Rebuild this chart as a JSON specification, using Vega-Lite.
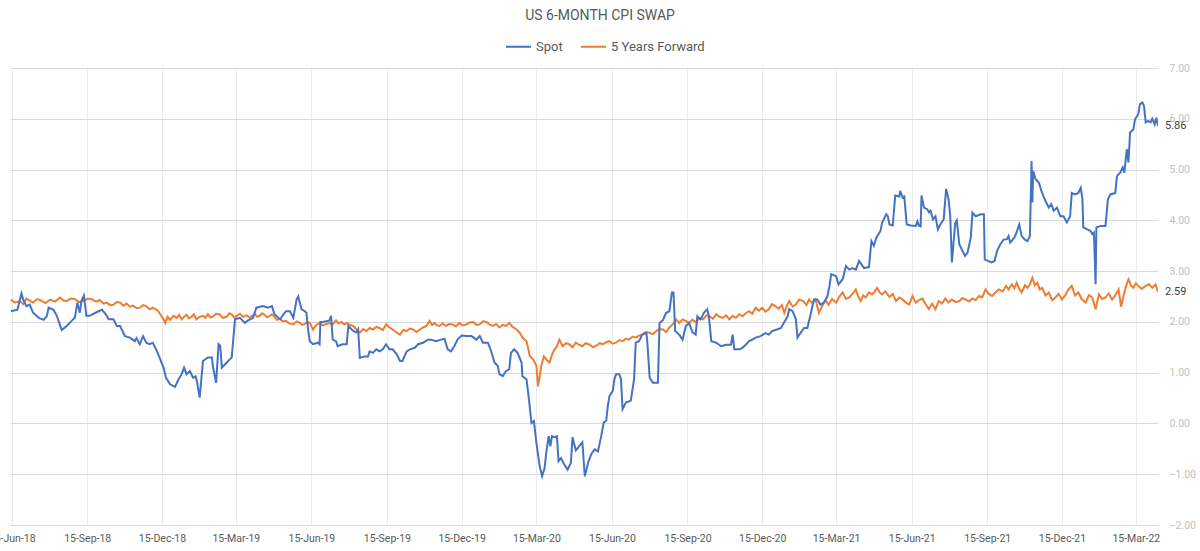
{
  "$schema": "https://vega.github.io/schema/vega-lite/v6.json",
  "width": 1148,
  "height": 457,
  "autosize": {"type": "none"},
  "padding": {"left": 10, "top": 68, "right": 42, "bottom": 26},
  "background": "white",
  "title": {"text": "US 6-MONTH CPI SWAP", "anchor": "middle", "frame": "group", "offset": 10, "dx": 16, "font": "Roboto", "fontSize": 14, "fontWeight": "normal", "color": "#595959"},
  "config": {"view": {"stroke": null}},
  "datasets": {
    "spot": [
      {"d": "2018-06-14", "v": 2.21}, {"d": "2018-06-22", "v": 2.24}, {"d": "2018-06-27", "v": 2.56}, {"d": "2018-06-29", "v": 2.44},
      {"d": "2018-07-03", "v": 2.31}, {"d": "2018-07-07", "v": 2.34}, {"d": "2018-07-11", "v": 2.18}, {"d": "2018-07-18", "v": 2.08},
      {"d": "2018-07-24", "v": 2.04}, {"d": "2018-07-28", "v": 2.12}, {"d": "2018-07-30", "v": 2.28}, {"d": "2018-08-05", "v": 2.24},
      {"d": "2018-08-09", "v": 2.12}, {"d": "2018-08-12", "v": 1.98}, {"d": "2018-08-15", "v": 1.84}, {"d": "2018-08-21", "v": 1.92},
      {"d": "2018-08-27", "v": 2.02}, {"d": "2018-08-31", "v": 2.08}, {"d": "2018-09-03", "v": 2.38}, {"d": "2018-09-06", "v": 2.18},
      {"d": "2018-09-08", "v": 2.41}, {"d": "2018-09-11", "v": 2.52}, {"d": "2018-09-14", "v": 2.12}, {"d": "2018-09-18", "v": 2.12},
      {"d": "2018-09-25", "v": 2.18}, {"d": "2018-09-29", "v": 2.21}, {"d": "2018-10-03", "v": 2.24}, {"d": "2018-10-09", "v": 2.12},
      {"d": "2018-10-11", "v": 2.05}, {"d": "2018-10-17", "v": 2.05}, {"d": "2018-10-21", "v": 1.92}, {"d": "2018-10-25", "v": 1.92},
      {"d": "2018-10-31", "v": 1.72}, {"d": "2018-11-06", "v": 1.69}, {"d": "2018-11-12", "v": 1.62}, {"d": "2018-11-14", "v": 1.68},
      {"d": "2018-11-18", "v": 1.56}, {"d": "2018-11-22", "v": 1.72}, {"d": "2018-11-26", "v": 1.59}, {"d": "2018-11-30", "v": 1.56},
      {"d": "2018-12-04", "v": 1.59}, {"d": "2018-12-09", "v": 1.42}, {"d": "2018-12-13", "v": 1.26}, {"d": "2018-12-17", "v": 1.10},
      {"d": "2018-12-20", "v": 0.90}, {"d": "2018-12-25", "v": 0.77}, {"d": "2018-12-31", "v": 0.72}, {"d": "2019-01-04", "v": 0.86},
      {"d": "2019-01-08", "v": 0.97}, {"d": "2019-01-11", "v": 1.10}, {"d": "2019-01-14", "v": 0.97}, {"d": "2019-01-18", "v": 1.03},
      {"d": "2019-01-22", "v": 0.90}, {"d": "2019-01-25", "v": 0.93}, {"d": "2019-01-27", "v": 0.80}, {"d": "2019-01-30", "v": 0.51},
      {"d": "2019-02-03", "v": 1.23}, {"d": "2019-02-09", "v": 1.30}, {"d": "2019-02-14", "v": 1.30}, {"d": "2019-02-15", "v": 1.13},
      {"d": "2019-02-19", "v": 0.80}, {"d": "2019-02-22", "v": 1.56}, {"d": "2019-02-24", "v": 1.53}, {"d": "2019-02-26", "v": 1.10},
      {"d": "2019-03-04", "v": 1.20}, {"d": "2019-03-10", "v": 1.30}, {"d": "2019-03-14", "v": 2.05}, {"d": "2019-03-20", "v": 2.08},
      {"d": "2019-03-26", "v": 1.98}, {"d": "2019-03-30", "v": 2.03}, {"d": "2019-04-05", "v": 2.08}, {"d": "2019-04-09", "v": 2.28},
      {"d": "2019-04-17", "v": 2.31}, {"d": "2019-04-23", "v": 2.28}, {"d": "2019-04-28", "v": 2.31}, {"d": "2019-05-01", "v": 2.15},
      {"d": "2019-05-08", "v": 2.05}, {"d": "2019-05-12", "v": 2.15}, {"d": "2019-05-15", "v": 2.21}, {"d": "2019-05-20", "v": 2.21},
      {"d": "2019-05-24", "v": 2.08}, {"d": "2019-05-28", "v": 2.44}, {"d": "2019-05-30", "v": 2.50}, {"d": "2019-06-03", "v": 2.25},
      {"d": "2019-06-07", "v": 2.21}, {"d": "2019-06-09", "v": 2.18}, {"d": "2019-06-11", "v": 1.85}, {"d": "2019-06-13", "v": 1.62},
      {"d": "2019-06-17", "v": 1.56}, {"d": "2019-06-23", "v": 1.59}, {"d": "2019-06-25", "v": 1.56}, {"d": "2019-06-26", "v": 2.00},
      {"d": "2019-06-29", "v": 2.00}, {"d": "2019-07-07", "v": 2.03}, {"d": "2019-07-09", "v": 2.12}, {"d": "2019-07-11", "v": 1.65},
      {"d": "2019-07-15", "v": 1.62}, {"d": "2019-07-17", "v": 1.52}, {"d": "2019-07-23", "v": 1.56}, {"d": "2019-07-28", "v": 1.56},
      {"d": "2019-07-30", "v": 1.92}, {"d": "2019-08-05", "v": 1.82}, {"d": "2019-08-09", "v": 1.79}, {"d": "2019-08-11", "v": 1.85},
      {"d": "2019-08-13", "v": 1.29}, {"d": "2019-08-19", "v": 1.32}, {"d": "2019-08-23", "v": 1.32}, {"d": "2019-08-25", "v": 1.42},
      {"d": "2019-08-29", "v": 1.39}, {"d": "2019-09-02", "v": 1.46}, {"d": "2019-09-06", "v": 1.42}, {"d": "2019-09-10", "v": 1.46},
      {"d": "2019-09-14", "v": 1.56}, {"d": "2019-09-18", "v": 1.46}, {"d": "2019-09-22", "v": 1.46}, {"d": "2019-09-27", "v": 1.36},
      {"d": "2019-10-01", "v": 1.23}, {"d": "2019-10-04", "v": 1.23}, {"d": "2019-10-09", "v": 1.42}, {"d": "2019-10-13", "v": 1.46},
      {"d": "2019-10-19", "v": 1.49}, {"d": "2019-10-23", "v": 1.56}, {"d": "2019-10-29", "v": 1.59}, {"d": "2019-11-04", "v": 1.65},
      {"d": "2019-11-08", "v": 1.65}, {"d": "2019-11-14", "v": 1.62}, {"d": "2019-11-20", "v": 1.65}, {"d": "2019-11-24", "v": 1.67},
      {"d": "2019-11-28", "v": 1.46}, {"d": "2019-12-02", "v": 1.42}, {"d": "2019-12-06", "v": 1.52}, {"d": "2019-12-10", "v": 1.65},
      {"d": "2019-12-15", "v": 1.73}, {"d": "2019-12-21", "v": 1.72}, {"d": "2019-12-27", "v": 1.72}, {"d": "2020-01-02", "v": 1.65},
      {"d": "2020-01-06", "v": 1.72}, {"d": "2020-01-10", "v": 1.59}, {"d": "2020-01-16", "v": 1.59}, {"d": "2020-01-20", "v": 1.42},
      {"d": "2020-01-24", "v": 1.20}, {"d": "2020-01-28", "v": 1.13}, {"d": "2020-01-30", "v": 0.97}, {"d": "2020-02-03", "v": 0.93},
      {"d": "2020-02-07", "v": 1.03}, {"d": "2020-02-11", "v": 1.07}, {"d": "2020-02-13", "v": 1.39}, {"d": "2020-02-17", "v": 1.46},
      {"d": "2020-02-21", "v": 1.39}, {"d": "2020-02-26", "v": 1.20}, {"d": "2020-02-27", "v": 0.93}, {"d": "2020-03-03", "v": 0.87},
      {"d": "2020-03-06", "v": 0.47}, {"d": "2020-03-09", "v": 0.01}, {"d": "2020-03-12", "v": 0.05}, {"d": "2020-03-15", "v": -0.38},
      {"d": "2020-03-19", "v": -0.84}, {"d": "2020-03-22", "v": -1.04}, {"d": "2020-03-25", "v": -0.88}, {"d": "2020-03-27", "v": -0.58},
      {"d": "2020-03-30", "v": -0.25}, {"d": "2020-04-01", "v": -0.45}, {"d": "2020-04-03", "v": -0.25}, {"d": "2020-04-06", "v": -0.27},
      {"d": "2020-04-09", "v": -0.25}, {"d": "2020-04-11", "v": -0.74}, {"d": "2020-04-14", "v": -0.68}, {"d": "2020-04-18", "v": -0.81},
      {"d": "2020-04-22", "v": -0.91}, {"d": "2020-04-26", "v": -0.78}, {"d": "2020-04-28", "v": -0.27}, {"d": "2020-05-02", "v": -0.53},
      {"d": "2020-05-06", "v": -0.45}, {"d": "2020-05-10", "v": -0.37}, {"d": "2020-05-13", "v": -1.04}, {"d": "2020-05-17", "v": -0.77},
      {"d": "2020-05-21", "v": -0.60}, {"d": "2020-05-25", "v": -0.51}, {"d": "2020-05-29", "v": -0.55}, {"d": "2020-06-02", "v": -0.25},
      {"d": "2020-06-05", "v": 0.02}, {"d": "2020-06-08", "v": 0.05}, {"d": "2020-06-10", "v": 0.34}, {"d": "2020-06-12", "v": 0.54},
      {"d": "2020-06-16", "v": 0.64}, {"d": "2020-06-18", "v": 0.87}, {"d": "2020-06-20", "v": 0.97}, {"d": "2020-06-24", "v": 0.97},
      {"d": "2020-06-26", "v": 0.87}, {"d": "2020-06-28", "v": 0.28}, {"d": "2020-07-02", "v": 0.41}, {"d": "2020-07-08", "v": 0.45},
      {"d": "2020-07-12", "v": 0.87}, {"d": "2020-07-14", "v": 1.59}, {"d": "2020-07-18", "v": 1.62}, {"d": "2020-07-22", "v": 1.75},
      {"d": "2020-07-27", "v": 1.78}, {"d": "2020-07-28", "v": 1.62}, {"d": "2020-07-31", "v": 0.90}, {"d": "2020-08-04", "v": 0.80},
      {"d": "2020-08-10", "v": 0.80}, {"d": "2020-08-12", "v": 1.98}, {"d": "2020-08-16", "v": 2.03}, {"d": "2020-08-20", "v": 2.18},
      {"d": "2020-08-24", "v": 2.21}, {"d": "2020-08-27", "v": 2.58}, {"d": "2020-08-29", "v": 2.58}, {"d": "2020-08-31", "v": 1.82},
      {"d": "2020-09-05", "v": 1.75}, {"d": "2020-09-09", "v": 1.65}, {"d": "2020-09-13", "v": 1.92}, {"d": "2020-09-17", "v": 1.98},
      {"d": "2020-09-21", "v": 1.80}, {"d": "2020-09-25", "v": 1.75}, {"d": "2020-09-27", "v": 2.11}, {"d": "2020-10-01", "v": 2.05},
      {"d": "2020-10-05", "v": 2.18}, {"d": "2020-10-09", "v": 2.25}, {"d": "2020-10-11", "v": 2.12}, {"d": "2020-10-14", "v": 1.62},
      {"d": "2020-10-20", "v": 1.59}, {"d": "2020-10-26", "v": 1.52}, {"d": "2020-11-01", "v": 1.55}, {"d": "2020-11-07", "v": 1.55},
      {"d": "2020-11-09", "v": 1.75}, {"d": "2020-11-11", "v": 1.46}, {"d": "2020-11-17", "v": 1.46}, {"d": "2020-11-21", "v": 1.49},
      {"d": "2020-11-25", "v": 1.55}, {"d": "2020-11-29", "v": 1.62}, {"d": "2020-12-03", "v": 1.65}, {"d": "2020-12-07", "v": 1.69},
      {"d": "2020-12-13", "v": 1.72}, {"d": "2020-12-19", "v": 1.78}, {"d": "2020-12-23", "v": 1.75}, {"d": "2020-12-27", "v": 1.82},
      {"d": "2021-01-02", "v": 1.85}, {"d": "2021-01-07", "v": 1.88}, {"d": "2021-01-11", "v": 2.00}, {"d": "2021-01-15", "v": 2.11},
      {"d": "2021-01-17", "v": 2.25}, {"d": "2021-01-21", "v": 2.21}, {"d": "2021-01-25", "v": 2.05}, {"d": "2021-01-27", "v": 1.69},
      {"d": "2021-01-31", "v": 1.79}, {"d": "2021-02-04", "v": 1.88}, {"d": "2021-02-08", "v": 1.88}, {"d": "2021-02-12", "v": 2.15},
      {"d": "2021-02-16", "v": 2.44}, {"d": "2021-02-20", "v": 2.44}, {"d": "2021-02-24", "v": 2.34}, {"d": "2021-02-28", "v": 2.38},
      {"d": "2021-03-04", "v": 2.48}, {"d": "2021-03-07", "v": 2.71}, {"d": "2021-03-09", "v": 2.94}, {"d": "2021-03-15", "v": 2.90},
      {"d": "2021-03-18", "v": 2.74}, {"d": "2021-03-23", "v": 2.84}, {"d": "2021-03-27", "v": 3.10}, {"d": "2021-03-31", "v": 3.03},
      {"d": "2021-04-04", "v": 3.06}, {"d": "2021-04-08", "v": 3.03}, {"d": "2021-04-12", "v": 3.20}, {"d": "2021-04-18", "v": 3.06},
      {"d": "2021-04-24", "v": 3.08}, {"d": "2021-04-27", "v": 3.59}, {"d": "2021-04-30", "v": 3.50}, {"d": "2021-05-03", "v": 3.66},
      {"d": "2021-05-08", "v": 3.79}, {"d": "2021-05-10", "v": 3.95}, {"d": "2021-05-15", "v": 4.12}, {"d": "2021-05-17", "v": 4.08},
      {"d": "2021-05-19", "v": 3.92}, {"d": "2021-05-23", "v": 3.90}, {"d": "2021-05-26", "v": 4.49}, {"d": "2021-05-31", "v": 4.47},
      {"d": "2021-06-01", "v": 4.58}, {"d": "2021-06-04", "v": 4.45}, {"d": "2021-06-06", "v": 4.47}, {"d": "2021-06-09", "v": 3.92},
      {"d": "2021-06-14", "v": 3.90}, {"d": "2021-06-20", "v": 3.89}, {"d": "2021-06-22", "v": 3.98}, {"d": "2021-06-24", "v": 3.89},
      {"d": "2021-06-26", "v": 3.88}, {"d": "2021-06-27", "v": 4.49}, {"d": "2021-06-30", "v": 4.25}, {"d": "2021-07-04", "v": 4.22},
      {"d": "2021-07-06", "v": 4.16}, {"d": "2021-07-08", "v": 4.19}, {"d": "2021-07-11", "v": 4.02}, {"d": "2021-07-14", "v": 4.08},
      {"d": "2021-07-17", "v": 3.82}, {"d": "2021-07-20", "v": 3.92}, {"d": "2021-07-24", "v": 4.02}, {"d": "2021-07-27", "v": 4.62},
      {"d": "2021-07-30", "v": 4.41}, {"d": "2021-08-01", "v": 4.08}, {"d": "2021-08-03", "v": 3.17}, {"d": "2021-08-07", "v": 3.94},
      {"d": "2021-08-09", "v": 4.00}, {"d": "2021-08-12", "v": 3.53}, {"d": "2021-08-15", "v": 3.43}, {"d": "2021-08-19", "v": 3.30},
      {"d": "2021-08-22", "v": 3.36}, {"d": "2021-08-26", "v": 3.66}, {"d": "2021-08-28", "v": 4.15}, {"d": "2021-09-01", "v": 4.08},
      {"d": "2021-09-07", "v": 4.12}, {"d": "2021-09-11", "v": 4.12}, {"d": "2021-09-12", "v": 3.23}, {"d": "2021-09-16", "v": 3.20},
      {"d": "2021-09-20", "v": 3.17}, {"d": "2021-09-24", "v": 3.20}, {"d": "2021-09-27", "v": 3.40}, {"d": "2021-10-01", "v": 3.53},
      {"d": "2021-10-05", "v": 3.62}, {"d": "2021-10-09", "v": 3.63}, {"d": "2021-10-11", "v": 3.69}, {"d": "2021-10-13", "v": 3.56},
      {"d": "2021-10-18", "v": 3.66}, {"d": "2021-10-20", "v": 3.73}, {"d": "2021-10-24", "v": 3.92}, {"d": "2021-10-27", "v": 3.69},
      {"d": "2021-10-31", "v": 3.62}, {"d": "2021-11-03", "v": 3.59}, {"d": "2021-11-06", "v": 3.69}, {"d": "2021-11-08", "v": 5.17},
      {"d": "2021-11-09", "v": 4.35}, {"d": "2021-11-10", "v": 4.97}, {"d": "2021-11-13", "v": 4.81}, {"d": "2021-11-17", "v": 4.74},
      {"d": "2021-11-20", "v": 4.58}, {"d": "2021-11-23", "v": 4.45}, {"d": "2021-11-25", "v": 4.38}, {"d": "2021-11-29", "v": 4.25},
      {"d": "2021-12-02", "v": 4.32}, {"d": "2021-12-05", "v": 4.19}, {"d": "2021-12-09", "v": 4.25}, {"d": "2021-12-13", "v": 4.08},
      {"d": "2021-12-17", "v": 4.08}, {"d": "2021-12-21", "v": 3.96}, {"d": "2021-12-25", "v": 4.08}, {"d": "2021-12-27", "v": 4.54},
      {"d": "2021-12-31", "v": 4.51}, {"d": "2022-01-04", "v": 4.54}, {"d": "2022-01-07", "v": 4.64}, {"d": "2022-01-09", "v": 4.41},
      {"d": "2022-01-10", "v": 3.86}, {"d": "2022-01-15", "v": 3.82}, {"d": "2022-01-19", "v": 3.79}, {"d": "2022-01-21", "v": 3.73},
      {"d": "2022-01-23", "v": 3.76}, {"d": "2022-01-25", "v": 2.74}, {"d": "2022-01-26", "v": 3.86}, {"d": "2022-01-31", "v": 3.89},
      {"d": "2022-02-06", "v": 3.89}, {"d": "2022-02-09", "v": 4.41}, {"d": "2022-02-12", "v": 4.51}, {"d": "2022-02-18", "v": 4.54},
      {"d": "2022-02-20", "v": 4.87}, {"d": "2022-02-24", "v": 4.94}, {"d": "2022-02-27", "v": 5.04}, {"d": "2022-03-01", "v": 4.94},
      {"d": "2022-03-04", "v": 5.40}, {"d": "2022-03-06", "v": 5.14}, {"d": "2022-03-08", "v": 5.73}, {"d": "2022-03-12", "v": 5.79},
      {"d": "2022-03-14", "v": 5.99}, {"d": "2022-03-18", "v": 6.09}, {"d": "2022-03-20", "v": 6.29}, {"d": "2022-03-23", "v": 6.32},
      {"d": "2022-03-25", "v": 6.25}, {"d": "2022-03-27", "v": 5.93}, {"d": "2022-03-30", "v": 5.96}, {"d": "2022-04-02", "v": 5.93},
      {"d": "2022-04-04", "v": 6.00}, {"d": "2022-04-07", "v": 5.89}, {"d": "2022-04-09", "v": 6.02}, {"d": "2022-04-11", "v": 5.86}
    ],
    "fwd": [
      {"d": "2018-06-14", "v": 2.44}, {"d": "2018-06-19", "v": 2.38}, {"d": "2018-06-25", "v": 2.41}, {"d": "2018-06-29", "v": 2.35}, {"d": "2018-07-03", "v": 2.46}, {"d": "2018-07-11", "v": 2.38},
      {"d": "2018-07-16", "v": 2.45}, {"d": "2018-07-20", "v": 2.43}, {"d": "2018-07-26", "v": 2.37}, {"d": "2018-08-01", "v": 2.44}, {"d": "2018-08-07", "v": 2.40}, {"d": "2018-08-13", "v": 2.48},
      {"d": "2018-08-17", "v": 2.42}, {"d": "2018-08-21", "v": 2.41}, {"d": "2018-08-26", "v": 2.46}, {"d": "2018-08-31", "v": 2.45}, {"d": "2018-09-05", "v": 2.39}, {"d": "2018-09-10", "v": 2.41}, {"d": "2018-09-16", "v": 2.46}, {"d": "2018-09-21", "v": 2.44},
      {"d": "2018-09-26", "v": 2.40}, {"d": "2018-09-30", "v": 2.43}, {"d": "2018-10-05", "v": 2.36}, {"d": "2018-10-09", "v": 2.38}, {"d": "2018-10-13", "v": 2.33}, {"d": "2018-10-17", "v": 2.34}, {"d": "2018-10-21", "v": 2.39}, {"d": "2018-10-25", "v": 2.38},
      {"d": "2018-10-29", "v": 2.32}, {"d": "2018-11-02", "v": 2.36}, {"d": "2018-11-06", "v": 2.30}, {"d": "2018-11-10", "v": 2.32}, {"d": "2018-11-14", "v": 2.27}, {"d": "2018-11-18", "v": 2.28}, {"d": "2018-11-22", "v": 2.33}, {"d": "2018-11-26", "v": 2.31},
      {"d": "2018-11-30", "v": 2.25}, {"d": "2018-12-04", "v": 2.28}, {"d": "2018-12-10", "v": 2.22}, {"d": "2018-12-13", "v": 2.15}, {"d": "2018-12-17", "v": 2.05},
      {"d": "2018-12-19", "v": 1.98}, {"d": "2018-12-22", "v": 2.10}, {"d": "2018-12-25", "v": 2.04}, {"d": "2018-12-29", "v": 2.12}, {"d": "2019-01-02", "v": 2.08}, {"d": "2019-01-05", "v": 2.14}, {"d": "2019-01-08", "v": 2.05},
      {"d": "2019-01-11", "v": 2.10}, {"d": "2019-01-14", "v": 2.14}, {"d": "2019-01-17", "v": 2.07}, {"d": "2019-01-20", "v": 2.10}, {"d": "2019-01-23", "v": 2.15}, {"d": "2019-01-26", "v": 2.05}, {"d": "2019-01-30", "v": 2.10}, {"d": "2019-02-03", "v": 2.12},
      {"d": "2019-02-06", "v": 2.08}, {"d": "2019-02-09", "v": 2.15}, {"d": "2019-02-12", "v": 2.09}, {"d": "2019-02-15", "v": 2.10}, {"d": "2019-02-19", "v": 2.16}, {"d": "2019-02-23", "v": 2.15}, {"d": "2019-02-27", "v": 2.08}, {"d": "2019-03-04", "v": 2.10},
      {"d": "2019-03-07", "v": 2.17}, {"d": "2019-03-10", "v": 2.15}, {"d": "2019-03-13", "v": 2.09}, {"d": "2019-03-16", "v": 2.12}, {"d": "2019-03-20", "v": 2.16}, {"d": "2019-03-24", "v": 2.10}, {"d": "2019-03-28", "v": 2.13}, {"d": "2019-04-01", "v": 2.08},
      {"d": "2019-04-04", "v": 2.12}, {"d": "2019-04-07", "v": 2.16}, {"d": "2019-04-10", "v": 2.10}, {"d": "2019-04-13", "v": 2.12}, {"d": "2019-04-16", "v": 2.17}, {"d": "2019-04-19", "v": 2.14}, {"d": "2019-04-22", "v": 2.09}, {"d": "2019-04-25", "v": 2.12},
      {"d": "2019-04-28", "v": 2.15}, {"d": "2019-05-01", "v": 2.10}, {"d": "2019-05-04", "v": 2.04}, {"d": "2019-05-08", "v": 2.06}, {"d": "2019-05-11", "v": 2.01}, {"d": "2019-05-15", "v": 2.02}, {"d": "2019-05-19", "v": 1.97}, {"d": "2019-05-24", "v": 1.95},
      {"d": "2019-05-28", "v": 2.01}, {"d": "2019-06-01", "v": 1.98}, {"d": "2019-06-04", "v": 1.94}, {"d": "2019-06-07", "v": 1.96}, {"d": "2019-06-10", "v": 2.00}, {"d": "2019-06-13", "v": 1.98}, {"d": "2019-06-17", "v": 1.85},
      {"d": "2019-06-21", "v": 1.94}, {"d": "2019-06-25", "v": 1.98}, {"d": "2019-06-29", "v": 1.93}, {"d": "2019-07-03", "v": 1.96}, {"d": "2019-07-07", "v": 1.98}, {"d": "2019-07-11", "v": 1.95}, {"d": "2019-07-15", "v": 2.03},
      {"d": "2019-07-18", "v": 1.97}, {"d": "2019-07-22", "v": 2.00}, {"d": "2019-07-25", "v": 1.95}, {"d": "2019-07-28", "v": 1.98}, {"d": "2019-08-01", "v": 1.94}, {"d": "2019-08-05", "v": 1.92}, {"d": "2019-08-09", "v": 1.85}, {"d": "2019-08-13", "v": 1.79},
      {"d": "2019-08-17", "v": 1.86}, {"d": "2019-08-21", "v": 1.82}, {"d": "2019-08-25", "v": 1.88}, {"d": "2019-08-29", "v": 1.85}, {"d": "2019-09-02", "v": 1.90}, {"d": "2019-09-06", "v": 1.88}, {"d": "2019-09-10", "v": 1.84}, {"d": "2019-09-14", "v": 1.95},
      {"d": "2019-09-18", "v": 1.89}, {"d": "2019-09-22", "v": 1.85}, {"d": "2019-09-26", "v": 1.80}, {"d": "2019-10-01", "v": 1.75}, {"d": "2019-10-05", "v": 1.84}, {"d": "2019-10-09", "v": 1.82}, {"d": "2019-10-13", "v": 1.87}, {"d": "2019-10-17", "v": 1.85},
      {"d": "2019-10-21", "v": 1.80}, {"d": "2019-10-25", "v": 1.85}, {"d": "2019-10-29", "v": 1.89}, {"d": "2019-11-02", "v": 1.92}, {"d": "2019-11-06", "v": 2.02}, {"d": "2019-11-09", "v": 1.94}, {"d": "2019-11-12", "v": 1.98},
      {"d": "2019-11-15", "v": 1.93}, {"d": "2019-11-18", "v": 1.92}, {"d": "2019-11-22", "v": 1.97}, {"d": "2019-11-26", "v": 1.92}, {"d": "2019-11-30", "v": 1.96}, {"d": "2019-12-04", "v": 1.95}, {"d": "2019-12-08", "v": 1.91}, {"d": "2019-12-12", "v": 1.98},
      {"d": "2019-12-16", "v": 1.93}, {"d": "2019-12-21", "v": 1.95}, {"d": "2019-12-25", "v": 1.99}, {"d": "2019-12-29", "v": 2.00}, {"d": "2020-01-02", "v": 1.94}, {"d": "2020-01-06", "v": 1.95}, {"d": "2020-01-10", "v": 2.01}, {"d": "2020-01-14", "v": 2.00},
      {"d": "2020-01-18", "v": 1.95}, {"d": "2020-01-22", "v": 1.92}, {"d": "2020-01-26", "v": 1.96}, {"d": "2020-01-30", "v": 1.89}, {"d": "2020-02-03", "v": 1.94}, {"d": "2020-02-07", "v": 1.92}, {"d": "2020-02-11", "v": 1.98},
      {"d": "2020-02-15", "v": 1.90}, {"d": "2020-02-20", "v": 1.85}, {"d": "2020-02-24", "v": 1.78}, {"d": "2020-02-27", "v": 1.69}, {"d": "2020-03-03", "v": 1.62}, {"d": "2020-03-05", "v": 1.48}, {"d": "2020-03-07", "v": 1.33},
      {"d": "2020-03-11", "v": 1.26}, {"d": "2020-03-15", "v": 1.14}, {"d": "2020-03-17", "v": 0.73}, {"d": "2020-03-21", "v": 1.13},
      {"d": "2020-03-24", "v": 1.32}, {"d": "2020-03-27", "v": 1.26}, {"d": "2020-03-31", "v": 1.20}, {"d": "2020-04-03", "v": 1.35}, {"d": "2020-04-06", "v": 1.46}, {"d": "2020-04-09", "v": 1.52}, {"d": "2020-04-12", "v": 1.65},
      {"d": "2020-04-16", "v": 1.52}, {"d": "2020-04-20", "v": 1.58}, {"d": "2020-04-24", "v": 1.56}, {"d": "2020-04-28", "v": 1.50}, {"d": "2020-05-02", "v": 1.59}, {"d": "2020-05-06", "v": 1.55}, {"d": "2020-05-10", "v": 1.52}, {"d": "2020-05-14", "v": 1.58},
      {"d": "2020-05-19", "v": 1.55}, {"d": "2020-05-23", "v": 1.50}, {"d": "2020-05-27", "v": 1.53}, {"d": "2020-05-31", "v": 1.58}, {"d": "2020-06-04", "v": 1.56}, {"d": "2020-06-08", "v": 1.60}, {"d": "2020-06-12", "v": 1.62},
      {"d": "2020-06-16", "v": 1.57}, {"d": "2020-06-20", "v": 1.59}, {"d": "2020-06-24", "v": 1.64}, {"d": "2020-06-28", "v": 1.62}, {"d": "2020-07-02", "v": 1.67}, {"d": "2020-07-06", "v": 1.65}, {"d": "2020-07-10", "v": 1.71}, {"d": "2020-07-14", "v": 1.69},
      {"d": "2020-07-18", "v": 1.73}, {"d": "2020-07-22", "v": 1.75}, {"d": "2020-07-26", "v": 1.80}, {"d": "2020-07-30", "v": 1.79}, {"d": "2020-08-04", "v": 1.76}, {"d": "2020-08-08", "v": 1.82}, {"d": "2020-08-12", "v": 1.86}, {"d": "2020-08-16", "v": 1.85},
      {"d": "2020-08-20", "v": 1.80}, {"d": "2020-08-24", "v": 1.89}, {"d": "2020-08-28", "v": 1.95}, {"d": "2020-09-01", "v": 2.05}, {"d": "2020-09-05", "v": 1.98}, {"d": "2020-09-09", "v": 2.05}, {"d": "2020-09-13", "v": 2.02}, {"d": "2020-09-17", "v": 1.98},
      {"d": "2020-09-21", "v": 2.04}, {"d": "2020-09-25", "v": 2.00}, {"d": "2020-09-30", "v": 2.07}, {"d": "2020-10-04", "v": 2.05}, {"d": "2020-10-08", "v": 2.13}, {"d": "2020-10-12", "v": 2.11}, {"d": "2020-10-16", "v": 2.06}, {"d": "2020-10-20", "v": 2.15},
      {"d": "2020-10-24", "v": 2.10}, {"d": "2020-10-28", "v": 2.08}, {"d": "2020-11-01", "v": 2.13}, {"d": "2020-11-05", "v": 2.05}, {"d": "2020-11-09", "v": 2.12}, {"d": "2020-11-13", "v": 2.08}, {"d": "2020-11-17", "v": 2.15}, {"d": "2020-11-21", "v": 2.11},
      {"d": "2020-11-25", "v": 2.17}, {"d": "2020-11-29", "v": 2.21}, {"d": "2020-12-03", "v": 2.16}, {"d": "2020-12-07", "v": 2.28}, {"d": "2020-12-11", "v": 2.22}, {"d": "2020-12-15", "v": 2.28}, {"d": "2020-12-19", "v": 2.20}, {"d": "2020-12-23", "v": 2.25},
      {"d": "2020-12-27", "v": 2.35}, {"d": "2020-12-31", "v": 2.31}, {"d": "2021-01-04", "v": 2.26}, {"d": "2021-01-08", "v": 2.33}, {"d": "2021-01-11", "v": 2.18}, {"d": "2021-01-14", "v": 2.32}, {"d": "2021-01-17", "v": 2.41},
      {"d": "2021-01-21", "v": 2.30}, {"d": "2021-01-25", "v": 2.34}, {"d": "2021-01-29", "v": 2.44}, {"d": "2021-02-03", "v": 2.41}, {"d": "2021-02-07", "v": 2.33}, {"d": "2021-02-10", "v": 2.44}, {"d": "2021-02-14", "v": 2.37}, {"d": "2021-02-18", "v": 2.44},
      {"d": "2021-02-22", "v": 2.18}, {"d": "2021-02-26", "v": 2.31}, {"d": "2021-03-02", "v": 2.42}, {"d": "2021-03-06", "v": 2.34}, {"d": "2021-03-10", "v": 2.45}, {"d": "2021-03-15", "v": 2.38},
      {"d": "2021-03-19", "v": 2.50}, {"d": "2021-03-23", "v": 2.58}, {"d": "2021-03-27", "v": 2.45}, {"d": "2021-03-31", "v": 2.48}, {"d": "2021-04-04", "v": 2.55}, {"d": "2021-04-08", "v": 2.64}, {"d": "2021-04-11", "v": 2.50}, {"d": "2021-04-14", "v": 2.41},
      {"d": "2021-04-17", "v": 2.52}, {"d": "2021-04-20", "v": 2.48}, {"d": "2021-04-24", "v": 2.58}, {"d": "2021-04-28", "v": 2.54}, {"d": "2021-05-01", "v": 2.60}, {"d": "2021-05-04", "v": 2.67}, {"d": "2021-05-07", "v": 2.58}, {"d": "2021-05-10", "v": 2.54},
      {"d": "2021-05-14", "v": 2.60}, {"d": "2021-05-19", "v": 2.49}, {"d": "2021-05-23", "v": 2.55}, {"d": "2021-05-27", "v": 2.41}, {"d": "2021-05-31", "v": 2.48}, {"d": "2021-06-04", "v": 2.44}, {"d": "2021-06-08", "v": 2.38}, {"d": "2021-06-12", "v": 2.34},
      {"d": "2021-06-16", "v": 2.51}, {"d": "2021-06-20", "v": 2.38}, {"d": "2021-06-24", "v": 2.43}, {"d": "2021-06-28", "v": 2.46}, {"d": "2021-07-02", "v": 2.35}, {"d": "2021-07-06", "v": 2.25}, {"d": "2021-07-10", "v": 2.36},
      {"d": "2021-07-14", "v": 2.25}, {"d": "2021-07-18", "v": 2.41}, {"d": "2021-07-22", "v": 2.36}, {"d": "2021-07-26", "v": 2.46}, {"d": "2021-07-30", "v": 2.38}, {"d": "2021-08-03", "v": 2.44}, {"d": "2021-08-08", "v": 2.39}, {"d": "2021-08-12", "v": 2.41},
      {"d": "2021-08-16", "v": 2.47}, {"d": "2021-08-20", "v": 2.44}, {"d": "2021-08-24", "v": 2.40}, {"d": "2021-08-28", "v": 2.46}, {"d": "2021-09-01", "v": 2.43}, {"d": "2021-09-05", "v": 2.51}, {"d": "2021-09-09", "v": 2.48},
      {"d": "2021-09-13", "v": 2.64}, {"d": "2021-09-17", "v": 2.55}, {"d": "2021-09-21", "v": 2.51}, {"d": "2021-09-25", "v": 2.58}, {"d": "2021-09-29", "v": 2.64}, {"d": "2021-10-04", "v": 2.60}, {"d": "2021-10-08", "v": 2.71}, {"d": "2021-10-11", "v": 2.64},
      {"d": "2021-10-15", "v": 2.74}, {"d": "2021-10-18", "v": 2.66}, {"d": "2021-10-21", "v": 2.77}, {"d": "2021-10-24", "v": 2.65}, {"d": "2021-10-27", "v": 2.58}, {"d": "2021-10-31", "v": 2.72}, {"d": "2021-11-03", "v": 2.67},
      {"d": "2021-11-06", "v": 2.74}, {"d": "2021-11-09", "v": 2.87}, {"d": "2021-11-12", "v": 2.72}, {"d": "2021-11-15", "v": 2.77}, {"d": "2021-11-18", "v": 2.64}, {"d": "2021-11-21", "v": 2.67}, {"d": "2021-11-25", "v": 2.52}, {"d": "2021-11-29", "v": 2.58},
      {"d": "2021-12-03", "v": 2.43}, {"d": "2021-12-07", "v": 2.48}, {"d": "2021-12-11", "v": 2.55}, {"d": "2021-12-15", "v": 2.44}, {"d": "2021-12-19", "v": 2.52}, {"d": "2021-12-23", "v": 2.64}, {"d": "2021-12-27", "v": 2.71},
      {"d": "2021-12-31", "v": 2.52}, {"d": "2022-01-04", "v": 2.58}, {"d": "2022-01-08", "v": 2.45}, {"d": "2022-01-13", "v": 2.38}, {"d": "2022-01-17", "v": 2.53}, {"d": "2022-01-21", "v": 2.48}, {"d": "2022-01-25", "v": 2.25},
      {"d": "2022-01-29", "v": 2.54}, {"d": "2022-02-02", "v": 2.45}, {"d": "2022-02-06", "v": 2.48}, {"d": "2022-02-10", "v": 2.56}, {"d": "2022-02-14", "v": 2.44}, {"d": "2022-02-18", "v": 2.52}, {"d": "2022-02-22", "v": 2.64},
      {"d": "2022-02-25", "v": 2.30}, {"d": "2022-02-28", "v": 2.51}, {"d": "2022-03-03", "v": 2.70}, {"d": "2022-03-06", "v": 2.84}, {"d": "2022-03-09", "v": 2.72}, {"d": "2022-03-12", "v": 2.67}, {"d": "2022-03-15", "v": 2.76},
      {"d": "2022-03-18", "v": 2.71}, {"d": "2022-03-22", "v": 2.65}, {"d": "2022-03-27", "v": 2.71}, {"d": "2022-03-31", "v": 2.74}, {"d": "2022-04-04", "v": 2.67}, {"d": "2022-04-08", "v": 2.74},
      {"d": "2022-04-11", "v": 2.59}
    ]
  },
  "encoding": {
    "x": {
      "field": "d", "type": "temporal",
      "scale": {"type": "utc", "domain": [{"year": 2018, "month": 6, "date": 13, "utc": true}, {"year": 2022, "month": 4, "date": 11, "utc": true}]},
      "axis": {
        "title": null, "labelExpr": "utcFormat(datum.value, '%d-%b-%y')", "domain": false, "ticks": false,
        "grid": true, "gridColor": "#ebebeb", "gridWidth": 1,
        "labelColor": "#595959", "labelFont": "Roboto", "labelFontSize": 10.5, "labelPadding": 8,
        "labelOverlap": false, "labelBound": false, "labelFlush": false,
        "values": [
          {"year": 2018, "month": 6, "date": 15, "utc": true}, {"year": 2018, "month": 9, "date": 15, "utc": true},
          {"year": 2018, "month": 12, "date": 15, "utc": true}, {"year": 2019, "month": 3, "date": 15, "utc": true},
          {"year": 2019, "month": 6, "date": 15, "utc": true}, {"year": 2019, "month": 9, "date": 15, "utc": true},
          {"year": 2019, "month": 12, "date": 15, "utc": true}, {"year": 2020, "month": 3, "date": 15, "utc": true},
          {"year": 2020, "month": 6, "date": 15, "utc": true}, {"year": 2020, "month": 9, "date": 15, "utc": true},
          {"year": 2020, "month": 12, "date": 15, "utc": true}, {"year": 2021, "month": 3, "date": 15, "utc": true},
          {"year": 2021, "month": 6, "date": 15, "utc": true}, {"year": 2021, "month": 9, "date": 15, "utc": true},
          {"year": 2021, "month": 12, "date": 15, "utc": true}, {"year": 2022, "month": 3, "date": 15, "utc": true}
        ]
      }
    },
    "y": {
      "field": "v", "type": "quantitative",
      "scale": {"domain": [-2, 7], "nice": false, "zero": false},
      "axis": {
        "title": null, "orient": "right", "values": [-2, -1, 0, 1, 2, 3, 4, 5, 6, 7], "format": ".2f",
        "domain": false, "ticks": false, "grid": true, "gridColor": "#d9d9d9", "gridWidth": 1,
        "labelColor": "#bfbfbf", "labelFont": "Roboto", "labelFontSize": 10.5, "labelPadding": 11
      }
    }
  },
  "layer": [
    {
      "data": {"name": "fwd"},
      "mark": {"type": "line", "strokeWidth": 2, "clip": true},
      "encoding": {
        "color": {
          "datum": "5 Years Forward", "type": "nominal",
          "scale": {"domain": ["Spot", "5 Years Forward"], "range": ["#4472C4", "#ED7D31"]},
          "legend": {
            "title": null, "orient": "none", "legendX": 495, "legendY": -35, "direction": "horizontal",
            "symbolType": "stroke", "symbolStrokeWidth": 2, "symbolSize": 625,
            "labelFont": "Roboto", "labelFontSize": 13, "labelColor": "#595959", "labelOffset": 4, "columnPadding": 14
          }
        }
      }
    },
    {
      "data": {"name": "spot"},
      "mark": {"type": "line", "strokeWidth": 2, "clip": true},
      "encoding": {"color": {"datum": "Spot", "type": "nominal"}}
    },
    {
      "data": {"name": "spot"},
      "transform": [{"window": [{"op": "row_number", "as": "r"}], "sort": [{"field": "d", "order": "descending"}]}, {"filter": "datum.r == 1"}],
      "mark": {"type": "text", "align": "left", "baseline": "middle", "dx": 7, "font": "Roboto", "fontSize": 11, "color": "#404040"},
      "encoding": {"text": {"field": "v", "format": ".2f"}}
    },
    {
      "data": {"name": "fwd"},
      "transform": [{"window": [{"op": "row_number", "as": "r"}], "sort": [{"field": "d", "order": "descending"}]}, {"filter": "datum.r == 1"}],
      "mark": {"type": "text", "align": "left", "baseline": "middle", "dx": 7, "font": "Roboto", "fontSize": 11, "color": "#404040"},
      "encoding": {"text": {"field": "v", "format": ".2f"}}
    }
  ]
}
